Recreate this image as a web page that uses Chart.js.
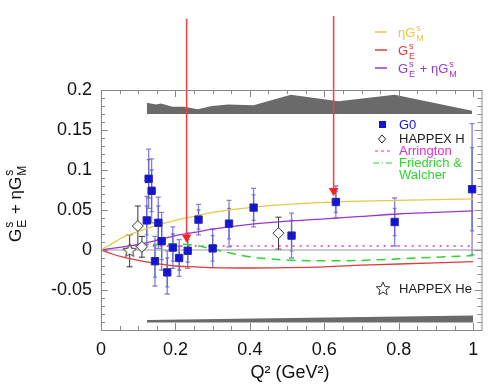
<!DOCTYPE html>
<html>
<head>
<meta charset="utf-8">
<script src="https://cdn.jsdelivr.net/npm/chart.js@4.4.1/dist/chart.umd.min.js"></script>
<style>
  body { margin: 0; background: #fff; }
  canvas { display: block; }
</style>
</head>
<body>
<canvas id="strangeChart" width="489" height="385" style="width:489px;height:385px"></canvas>
<script>
// G0 forward angle points
const g0X    = [0.123, 0.128, 0.136, 0.145, 0.154, 0.163, 0.178, 0.193, 0.21, 0.233, 0.262, 0.30, 0.344, 0.41, 0.512, 0.631, 0.789, 0.997];
const g0Y    = [0.037, 0.089, 0.074, -0.014, 0.034, 0.011, -0.028, 0.003, -0.010, -0.001, 0.038, 0.002, 0.033, 0.053, 0.018, 0.060, 0.035, 0.076];
const g0Err  = [0.030, 0.037, 0.040, 0.031, 0.032, 0.036, 0.027, 0.026, 0.023, 0.022, 0.019, 0.024, 0.029, 0.024, 0.028, 0.020, 0.030, 0.082];
const g0Stat = [0.018, 0.024, 0.026, 0.020, 0.021, 0.023, 0.018, 0.017, 0.015, 0.014, 0.012, 0.016, 0.019, 0.016, 0.019, 0.013, 0.017, 0.052];

// HAPPEX
const happexHX   = [0.099, 0.11, 0.477];
const happexHY   = [0.030, 0.004, 0.021];
const happexHErr = [0.025, 0.013, 0.020];
const happexHeX   = [0.077];
const happexHeY   = [-0.001];
const happexHeErr = [0.020];

// fit curves
const curveX  = [0, 0.03, 0.06, 0.1, 0.15, 0.2, 0.25, 0.3, 0.4, 0.5, 0.6, 0.7, 0.8, 0.9, 1.0];
const etaGM   = [0, 0.008, 0.016, 0.023, 0.031, 0.037, 0.042, 0.047, 0.053, 0.057, 0.0595, 0.061, 0.062, 0.063, 0.064];
const gE      = [0, -0.005, -0.009, -0.013, -0.017, -0.020, -0.021, -0.022, -0.0225, -0.022, -0.021, -0.019, -0.0175, -0.016, -0.0145];
const gESum   = [0, 0.002, 0.004, 0.007, 0.012, 0.018, 0.022, 0.026, 0.032, 0.036, 0.039, 0.042, 0.045, 0.047, 0.049];

// theory
const fwX = [0.06, 0.1, 0.15, 0.2, 0.25, 0.3, 0.35, 0.4, 0.5, 0.6, 0.7, 0.8, 0.9, 1.0];
const fwY = [0.001, 0.005, 0.007, 0.0075, 0.006, 0.001, -0.004, -0.0085, -0.0125, -0.0135, -0.013, -0.011, -0.009, -0.007];
const arringtonX = [0.12, 0.995];
const arringtonY = [0.005, 0.005];

// systematic bands
const sysTopX = [0.123, 0.148, 0.161, 0.192, 0.223, 0.26, 0.298, 0.342, 0.41, 0.51, 0.638, 0.789, 0.997];
const sysTopY = [0.184, 0.182, 0.183, 0.179, 0.179, 0.176, 0.180, 0.182, 0.181, 0.194, 0.186, 0.194, 0.174];
const sysTopBase = 0.17;
const sysBotX = [0.123, 1.0];
const sysBotY = [-0.0875, -0.082];
const sysBotBase = -0.0905;

// arrows
const arrowX = [0.230, 0.625];
const arrowTop = [0.289, 0.2925];
const arrowTip = [0.016, 0.074];

const xTickVals = [0, 0.2, 0.4, 0.6, 0.8, 1];
const xTicks = ['0', '0.2', '0.4', '0.6', '0.8', '1'];
const yTickVals = [-0.05, 0, 0.05, 0.1, 0.15, 0.2];
const yTicks = ['-0.05', '0', '0.05', '0.1', '0.15', '0.2'];

const FONT = '"Liberation Sans", Arial, sans-serif';
const pts = (xs, ys) => xs.map((x, i) => ({ x: x, y: ys[i] }));

// hollow star marker
function makeStar(r) {
  const c = document.createElement('canvas');
  c.width = c.height = r * 2 + 4;
  const g = c.getContext('2d');
  g.translate(r + 2, r + 2);
  g.beginPath();
  for (let i = 0; i < 10; i++) {
    const rr = i % 2 ? r * 0.45 : r;
    const a = -Math.PI / 2 + i * Math.PI / 5;
    g.lineTo(rr * Math.cos(a), rr * Math.sin(a));
  }
  g.closePath();
  g.fillStyle = '#fff';
  g.fill();
  g.strokeStyle = '#333';
  g.lineWidth = 1;
  g.stroke();
  return c;
}
const starMarker = makeStar(7);

// draw G with stacked sup/sub
function richText(ctx, parts, x, y, size, color) {
  let cx = x;
  parts.forEach(p => {
    if (p.t) {
      ctx.font = size + 'px ' + FONT;
      ctx.fillStyle = color;
      ctx.fillText(p.t, cx, y);
      cx += ctx.measureText(p.t).width;
    } else {
      const s = Math.round(size * 0.68);
      ctx.font = s + 'px ' + FONT;
      ctx.fillStyle = color;
      ctx.fillText(p.sup, cx + 1, y - size * 0.45);
      ctx.fillText(p.sub, cx + 1, y + size * 0.3);
      cx += Math.max(ctx.measureText(p.sup).width, ctx.measureText(p.sub).width) + 2;
    }
  });
}

const errorBars = {
  id: 'errorBars',
  beforeDatasetsDraw(chart) {
    const { ctx, scales: { x, y } } = chart;
    ctx.save();
    const bar = (xv, yv, e, cap, color) => {
      const px = x.getPixelForValue(xv);
      ctx.strokeStyle = color;
      ctx.beginPath();
      ctx.moveTo(px, y.getPixelForValue(yv - e));
      ctx.lineTo(px, y.getPixelForValue(yv + e));
      [yv - e, yv + e].forEach(v => {
        const py = y.getPixelForValue(v);
        ctx.moveTo(px - cap, py);
        ctx.lineTo(px + cap, py);
      });
      ctx.stroke();
    };
    ctx.lineWidth = 1.3;
    g0X.forEach((xv, i) => {
      bar(xv, g0Y[i], g0Err[i], 2.5, 'rgba(90,90,200,0.75)');
      bar(xv, g0Y[i], g0Stat[i], 2, 'rgba(90,90,200,0.75)');
    });
    ctx.lineWidth = 1;
    happexHX.forEach((xv, i) => bar(xv, happexHY[i], happexHErr[i], 3, '#333'));
    happexHeX.forEach((xv, i) => bar(xv, happexHeY[i], happexHeErr[i], 3, '#333'));
    ctx.restore();
  }
};

const frame = {
  id: 'frame',
  afterDraw(chart) {
    const { ctx, chartArea: a, scales: { x, y } } = chart;
    ctx.save();
    ctx.strokeStyle = '#888';
    ctx.lineWidth = 1;
    ctx.strokeRect(a.left + 0.5, a.top + 0.5, a.right - a.left - 1, a.bottom - a.top);
    ctx.beginPath();
    for (let i = 0; i <= 20; i++) {
      const px = Math.round(x.getPixelForValue(i * 0.05)) + 0.5;
      const len = i % 4 === 0 ? 7 : 4;
      ctx.moveTo(px, a.bottom); ctx.lineTo(px, a.bottom - len);
      ctx.moveTo(px, a.top); ctx.lineTo(px, a.top + len);
    }
    for (let i = 0; i <= 30; i++) {
      const py = Math.round(y.getPixelForValue(-0.1 + i * 0.01)) + 0.5;
      const len = i % 5 === 0 ? 7 : 4;
      ctx.moveTo(a.left, py); ctx.lineTo(a.left + len, py);
      ctx.moveTo(a.right - 1, py); ctx.lineTo(a.right - 1 - len, py);
    }
    ctx.stroke();

    // axis titles
    ctx.fillStyle = '#111';
    ctx.font = '18px ' + FONT;
    ctx.textAlign = 'center';
    ctx.textBaseline = 'alphabetic';
    ctx.fillText('Q\u00B2 (GeV\u00B2)', 290, 378);
    ctx.textAlign = 'left';
    ctx.save();
    ctx.translate(21, 242);
    ctx.rotate(-Math.PI / 2);
    richText(ctx, [{ t: 'G' }, { sup: 's', sub: 'E' }, { t: ' + \u03B7G' }, { sup: 's', sub: 'M' }], 0, 0, 17, '#111');
    ctx.restore();

    // upper legend
    const top = [
      { c: '#e6c84a', parts: [{ t: '\u03B7G' }, { sup: 's', sub: 'M' }], y: 37 },
      { c: '#e23a3a', parts: [{ t: 'G' }, { sup: 's', sub: 'E' }], y: 55 },
      { c: '#9b35d0', parts: [{ t: 'G' }, { sup: 's', sub: 'E' }, { t: ' + \u03B7G' }, { sup: 's', sub: 'M' }], y: 73 }
    ];
    top.forEach(r => {
      ctx.strokeStyle = r.c;
      ctx.lineWidth = 1.5;
      ctx.beginPath();
      ctx.moveTo(375, r.y - 5); ctx.lineTo(387, r.y - 5);
      ctx.stroke();
      richText(ctx, r.parts, 398, r.y, 13, r.c);
    });

    // inner legend
    ctx.font = '13px ' + FONT;
    ctx.textBaseline = 'middle';
    ctx.fillStyle = '#1414d8';
    ctx.fillRect(379, 121, 7, 7);
    ctx.fillText('G0', 399, 125);
    ctx.fillStyle = '#222';
    ctx.fillText('HAPPEX H', 399, 139);
    ctx.strokeStyle = '#222';
    ctx.lineWidth = 1;
    ctx.beginPath();
    ctx.moveTo(382, 135); ctx.lineTo(385.5, 139); ctx.lineTo(382, 143); ctx.lineTo(378.5, 139); ctx.closePath();
    ctx.stroke();
    ctx.fillStyle = '#e02cd0';
    ctx.fillText('Arrington', 399, 151);
    ctx.strokeStyle = '#e02cd0';
    ctx.setLineDash([3, 3]);
    ctx.beginPath(); ctx.moveTo(375, 151); ctx.lineTo(390, 151); ctx.stroke();
    ctx.fillStyle = '#2ed62e';
    ctx.fillText('Friedrich &', 399, 163);
    ctx.fillText('Walcher', 399, 175);
    ctx.strokeStyle = '#2ed62e';
    ctx.setLineDash([6, 3, 1, 3]);
    ctx.beginPath(); ctx.moveTo(373, 163); ctx.lineTo(392, 163); ctx.stroke();
    ctx.setLineDash([]);
    ctx.drawImage(starMarker, 383 - starMarker.width / 2, 289 - starMarker.height / 2);
    ctx.fillStyle = '#222';
    ctx.fillText('HAPPEX He', 399, 289);
    ctx.restore();
  }
};

new Chart(document.getElementById('strangeChart'), {
  type: 'scatter',
  data: {
    datasets: [
      {
        label: 'G0', data: pts(g0X, g0Y), order: 0,
        pointStyle: 'rect', pointRadius: 5.2, backgroundColor: '#1414d8', borderColor: '#2a2aa0', borderWidth: 1
      },
      {
        label: 'HAPPEX H', data: pts(happexHX, happexHY), order: 1,
        pointStyle: 'rectRot', pointRadius: 5.5, backgroundColor: '#fff', borderColor: '#333', borderWidth: 1
      },
      {
        label: 'HAPPEX He', data: pts(happexHeX, happexHeY), order: 2,
        pointStyle: starMarker
      },
      {
        label: 'arrow1', type: 'line', data: [{ x: arrowX[0], y: arrowTop[0] }, { x: arrowX[0], y: arrowTip[0] }], order: 3,
        clip: false, borderColor: '#ff3b3b', borderWidth: 1.5, backgroundColor: '#ff2020',
        pointStyle: 'triangle', rotation: 180, pointRadius: [0, 5.5], pointBorderWidth: 0
      },
      {
        label: 'arrow2', type: 'line', data: [{ x: arrowX[1], y: arrowTop[1] }, { x: arrowX[1], y: arrowTip[1] }], order: 4,
        clip: false, borderColor: '#ff3b3b', borderWidth: 1.5, backgroundColor: '#ff2020',
        pointStyle: 'triangle', rotation: 180, pointRadius: [0, 5.5], pointBorderWidth: 0
      },
      {
        label: 'etaGM', type: 'line', data: pts(curveX, etaGM), order: 5,
        borderColor: '#e6c84a', borderWidth: 1.3, pointRadius: 0, cubicInterpolationMode: 'monotone'
      },
      {
        label: 'GE', type: 'line', data: pts(curveX, gE), order: 6,
        borderColor: '#e23a3a', borderWidth: 1.3, pointRadius: 0, cubicInterpolationMode: 'monotone'
      },
      {
        label: 'sum', type: 'line', data: pts(curveX, gESum), order: 7,
        borderColor: '#9b35d0', borderWidth: 1.3, pointRadius: 0, cubicInterpolationMode: 'monotone'
      },
      {
        label: 'Friedrich & Walcher', type: 'line', data: pts(fwX, fwY), order: 8,
        borderColor: '#2ed62e', borderWidth: 1.5, borderDash: [9, 6], pointRadius: 0, cubicInterpolationMode: 'monotone'
      },
      {
        label: 'Arrington', type: 'line', data: pts(arringtonX, arringtonY), order: 9,
        borderColor: '#e02cd0', borderWidth: 1.3, borderDash: [2, 5], pointRadius: 0
      },
      {
        label: 'zero', type: 'line', data: [{ x: 0, y: 0 }, { x: 1.025, y: 0 }], order: 10,
        borderColor: '#999', borderWidth: 1, pointRadius: 0
      },
      {
        label: 'sysTop', type: 'line', data: pts(sysTopX, sysTopY), order: 11,
        borderWidth: 0, borderColor: '#6a6a6a', backgroundColor: '#6a6a6a', pointRadius: 0, fill: { value: sysTopBase }
      },
      {
        label: 'sysBot', type: 'line', data: pts(sysBotX, sysBotY), order: 12,
        borderWidth: 0, borderColor: '#6a6a6a', backgroundColor: '#6a6a6a', pointRadius: 0, fill: { value: sysBotBase }
      }
    ]
  },
  options: {
    responsive: false,
    animation: false,
    devicePixelRatio: 1,
    layout: { padding: { top: 90, right: 1, left: 0, bottom: 0 } },
    plugins: { legend: { display: false }, tooltip: { enabled: false } },
    scales: {
      x: {
        type: 'linear', min: 0, max: 1.025,
        grid: { display: false, drawTicks: false },
        border: { display: false },
        afterBuildTicks: (s) => { s.ticks = xTickVals.map(v => ({ value: v })); },
        ticks: {
          padding: 9, color: '#111', font: { size: 18, family: FONT },
          callback: (v, i) => xTicks[i]
        },
        afterFit: (s) => { s.height = 55; }
      },
      y: {
        type: 'linear', min: -0.1, max: 0.2,
        grid: { display: false, drawTicks: false },
        border: { display: false },
        afterBuildTicks: (s) => { s.ticks = yTickVals.map(v => ({ value: v })); },
        ticks: {
          padding: 9, color: '#111', font: { size: 18, family: FONT },
          callback: (v, i) => yTicks[i]
        },
        afterFit: (s) => { s.width = 101; }
      }
    }
  },
  plugins: [errorBars, frame]
});
</script>
</body>
</html>
